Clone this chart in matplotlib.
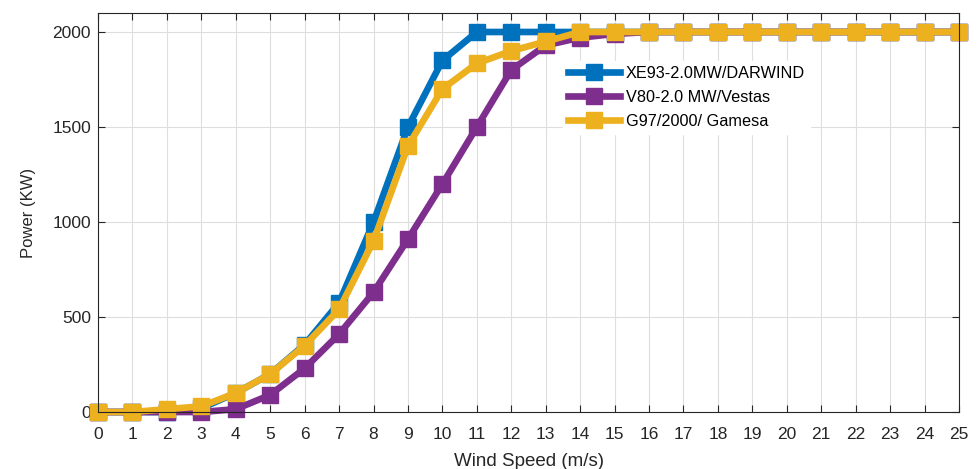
import matplotlib
matplotlib.use("Agg")
import matplotlib.pyplot as plt

plt.rcParams['font.family'] = ['Liberation Sans', 'DejaVu Sans']

# Power curves of three 2 MW turbines
wind_speed = list(range(0, 26))
xe93_darwind = [0, 0, 0, 20, 100, 200, 355, 575, 1000, 1500, 1850, 2000, 2000,
                2000, 2000, 2000, 2000, 2000, 2000, 2000, 2000, 2000, 2000, 2000,
                2000, 2000]
v80_vestas = [0, 0, 0, 0, 15, 90, 230, 410, 630, 910, 1200, 1500, 1800, 1930,
              1970, 1990, 2000, 2000, 2000, 2000, 2000, 2000, 2000, 2000, 2000,
              2000]
g97_gamesa = [0, 0, 15, 30, 100, 200, 350, 540, 900, 1400, 1700, 1835, 1900,
              1950, 2000, 2000, 2000, 2000, 2000, 2000, 2000, 2000, 2000, 2000,
              2000, 2000]

labels = ['XE93-2.0MW/DARWIND', 'V80-2.0 MW/Vestas', 'G97/2000/ Gamesa']
colors = ['#0072BD', '#7E2F8E', '#EDB120']

fig = plt.figure(figsize=(9.79, 4.69), dpi=100)
ax = fig.add_axes([0.1001, 0.1215, 0.8795, 0.8508])

for series, lab, col in zip([xe93_darwind, v80_vestas, g97_gamesa], labels, colors):
    ax.plot(wind_speed, series, color=col, lw=4.8, marker='s', ms=11, mew=1,
            label=lab, clip_on=False)

ax.set_xlim(0, 25)
ax.set_ylim(0, 2100)
ax.set_xticks(wind_speed)
ax.set_yticks([0, 500, 1000, 1500, 2000])
ax.grid(True, color='#dedede', lw=0.8)
ax.set_axisbelow(True)
ax.tick_params(direction='in', top=True, right=True, length=5, width=0.8,
               labelsize=12.5, colors='#262626')
ax.tick_params(axis='x', pad=11)
ax.tick_params(axis='y', pad=5)
for sp in ax.spines.values():
    sp.set_color('#262626')
    sp.set_linewidth(0.8)

ax.set_xlabel('Wind Speed (m/s)', fontsize=13.5, color='#262626', labelpad=8)
ax.set_ylabel('Power (KW)', fontsize=12, color='#262626', labelpad=12)

leg = ax.legend(loc='upper left', bbox_to_anchor=(0.531, 0.90), fontsize=11.7,
                frameon=True, fancybox=False, handlelength=3.2, borderpad=0.3,
                labelspacing=0.56, handletextpad=0.35)
leg.get_frame().set_edgecolor('white')
leg.get_frame().set_facecolor('white')
leg.get_frame().set_alpha(1.0)

fig.savefig('out.png', dpi=100)
